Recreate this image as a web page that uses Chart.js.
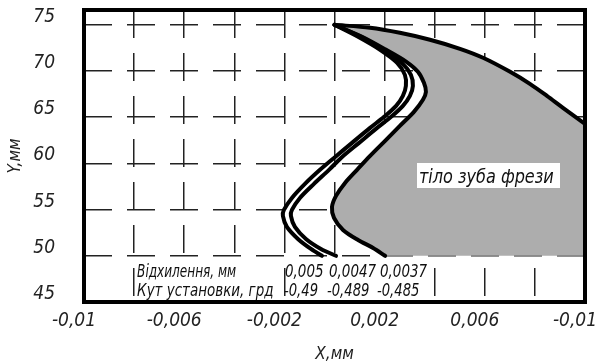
<!DOCTYPE html>
<html>
<head>
<meta charset="utf-8">
<script src="https://cdn.jsdelivr.net/npm/chart.js@4/dist/chart.umd.min.js"></script>
<style>
  html, body { margin: 0; padding: 0; background: #fff; }
  #wrap { width: 595px; height: 364px; }
</style>
</head>
<body>
<div id="wrap"><canvas id="c" width="595" height="364"></canvas></div>
<script>
// Profile of the hob tooth flank for three deviation / setting-angle cases
const profileY      = [75, 73.7, 72.29, 70.88, 69.58, 68.39, 67.31, 66.23, 65.04, 63.84, 62.22, 60.59, 59.3, 57.78, 56.26, 54.96, 54.31, 53.12, 51.82, 50.74, 50];
const profile005X   = [0, 0.00094, 0.00182, 0.0025, 0.00281, 0.00285, 0.00273, 0.00246, 0.00198, 0.00142, 0.0007, -0.00002, -0.00058, -0.00118, -0.0017, -0.00202, -0.00206, -0.0019, -0.00146, -0.00094, -0.0005];
const profile0047X  = [0, 0.00106, 0.00198, 0.00269, 0.00305, 0.00313, 0.00301, 0.00273, 0.00226, 0.0017, 0.00098, 0.00026, -0.00022, -0.00082, -0.00138, -0.0017, -0.00174, -0.00158, -0.00114, -0.00054, 0.00006];
const profile0037X  = [0, 0.0011, 0.00206, 0.00287, 0.00333, 0.00357, 0.00365, 0.00353, 0.00317, 0.00261, 0.00202, 0.00142, 0.0009, 0.00042, 0.00006, -0.0001, -0.00002, 0.00034, 0.00094, 0.00154, 0.00202];
const profile0037Y  = [75, 73.7, 72.29, 70.99, 69.91, 68.72, 67.74, 66.88, 65.58, 64.06, 62.44, 60.81, 59.3, 57.89, 56.48, 55.29, 54.1, 52.8, 51.71, 50.85, 50];

// Outer (top) contour of the tooth body
const toothArcX = [0, 0.00142, 0.00261, 0.00381, 0.00501, 0.00593, 0.00701, 0.0078, 0.00848, 0.00912, 0.01];
const toothArcY = [75, 74.68, 74.13, 73.38, 72.4, 71.43, 69.91, 68.61, 67.31, 66.01, 64.28];
const toothBaseY = 50;

// Legend table values
const deviations = ['0,005', '0,0047', '0,0037'];
const angles     = ['-0,49', '-0,489', '-0,485'];

// Axes
const xGridValues = [-0.01, -0.008, -0.006, -0.004, -0.002, 0, 0.002, 0.004, 0.006, 0.008, 0.01];
const xTickLabels = ['-0,01', '', '-0,006', '', '-0,002', '', '0,002', '', '0,006', '', '-0,01'];
const yGridValues = [45, 50, 55, 60, 65, 70, 75];
const yTickLabels = ['45', '50', '55', '60', '65', '70', '75'];

const FONT = "'DejaVu Sans Condensed', 'Liberation Sans', sans-serif";

const pts = (xs, ys) => xs.map((x, i) => ({ x, y: ys[i] }));

// closed outline of the tooth body: flank, base, right edge, outer arc back to the tip
const bodyOutline = pts(profile0037X, profile0037Y)
  .concat([{ x: toothArcX[toothArcX.length - 1], y: toothBaseY }])
  .concat(pts(toothArcX, toothArcY).reverse());

const lineStyle = { showLine: true, pointRadius: 0, borderColor: '#000', borderWidth: 4, tension: 0.3, fill: false, borderJoinStyle: 'round', borderCapStyle: 'round' };

// horizontally condensed text, drawing-standard style
function squeezeText(ctx, str, x, y, sx) {
  ctx.save();
  ctx.translate(x, y);
  ctx.scale(sx, 1);
  ctx.fillText(str, 0, 0);
  ctx.restore();
}

const annotate = {
  id: 'annotate',
  afterDraw(chart) {
    const { ctx, chartArea: a, scales: { x, y } } = chart;
    ctx.save();
    ctx.fillStyle = '#fff';
    const rowTop = y.getPixelForValue(50) + 5;
    // table boxes
    ctx.fillRect(x.getPixelForValue(-0.008) + 1, rowTop, x.getPixelForValue(-0.002) - x.getPixelForValue(-0.008) - 3, a.bottom - rowTop);
    ctx.fillRect(x.getPixelForValue(-0.002) + 2, rowTop, x.getPixelForValue(0.004) - x.getPixelForValue(-0.002) - 5, a.bottom - rowTop);
    // tooth body caption box
    ctx.fillRect(417, 163, 143, 25);

    ctx.fillStyle = '#111';
    ctx.textAlign = 'left';
    ctx.textBaseline = 'alphabetic';
    ctx.font = 'italic 17px ' + FONT;
    const row1 = y.getPixelForValue(50) + 21;
    const row2 = a.bottom - 6;
    const lx = x.getPixelForValue(-0.008) + 3;
    squeezeText(ctx, 'Відхилення, мм', lx, row1, 0.79);
    squeezeText(ctx, 'Кут установки, грд', lx, row2, 0.88);
    const cols1 = [285, 329, 380];
    const cols2 = [284, 327, 377];
    deviations.forEach((t, i) => squeezeText(ctx, t, cols1[i], row1, 0.88));
    angles.forEach((t, i) => squeezeText(ctx, t, cols2[i], row2, 0.86));

    ctx.font = 'italic 19px ' + FONT;
    squeezeText(ctx, 'тіло зуба фрези', 419, 183, 0.94);

    // drawing frame
    ctx.lineWidth = 4;
    ctx.strokeStyle = '#000';
    ctx.strokeRect(a.left, a.top, a.right - a.left, a.bottom - a.top);
    ctx.restore();
  }
};

new Chart(document.getElementById('c'), {
  type: 'scatter',
  data: {
    datasets: [
      { ...lineStyle, label: deviations[0], data: pts(profile005X, profileY), order: 1 },
      { ...lineStyle, label: deviations[1], data: pts(profile0047X, profileY), order: 1 },
      { ...lineStyle, label: deviations[2], data: pts(profile0037X, profile0037Y), order: 1 },
      { ...lineStyle, label: 'arc', data: pts(toothArcX, toothArcY), order: 1 },
      { showLine: true, pointRadius: 0, borderWidth: 0, borderColor: 'rgba(0,0,0,0)', tension: 0,
        backgroundColor: '#adadad', fill: 'shape', label: 'body', data: bodyOutline, order: 10 }
    ]
  },
  options: {
    responsive: false,
    devicePixelRatio: 1,
    animation: false,
    layout: { padding: { top: 10, right: 10, left: 0, bottom: 0 } },
    plugins: { legend: { display: false }, tooltip: { enabled: false } },
    scales: {
      x: {
        type: 'linear', min: -0.01, max: 0.01, z: 1,
        afterBuildTicks: s => { s.ticks = xGridValues.map(v => ({ value: v })); },
        afterFit: s => { s.height = 62; s.paddingLeft = 0; s.paddingRight = 0; },
        grid: { color: '#222', lineWidth: 1.5, drawTicks: false },
        border: { display: false, dash: [28, 15], dashOffset: 0 },
        ticks: {
          autoSkip: false, maxRotation: 0, padding: 8, labelOffset: -10, color: '#222',
          font: { family: FONT, size: 19, style: 'italic' },
          callback: (v, i) => xTickLabels[i]
        },
        title: { display: true, text: 'X,мм', color: '#222', padding: { top: 0, bottom: 1 },
                 font: { family: FONT, size: 17, style: 'italic', lineHeight: 1 } }
      },
      y: {
        type: 'linear', min: 45, max: 76.6, z: 1,
        afterBuildTicks: s => { s.ticks = yGridValues.map(v => ({ value: v })); },
        afterFit: s => { s.width = 84; s.paddingTop = 0; s.paddingBottom = 0; },
        grid: { color: '#222', lineWidth: 1.5, drawTicks: false },
        border: { display: false, dash: [28, 15], dashOffset: 0 },
        ticks: {
          autoSkip: false, padding: 29, labelOffset: -8, color: '#222',
          font: { family: FONT, size: 19, style: 'italic' },
          callback: (v, i) => yTickLabels[i]
        },
        title: { display: true, text: 'Y,мм', color: '#222', padding: { top: 5, bottom: 0 },
                 font: { family: FONT, size: 17, style: 'italic', lineHeight: 1.2 } }
      }
    }
  },
  plugins: [annotate]
});
</script>
</body>
</html>
